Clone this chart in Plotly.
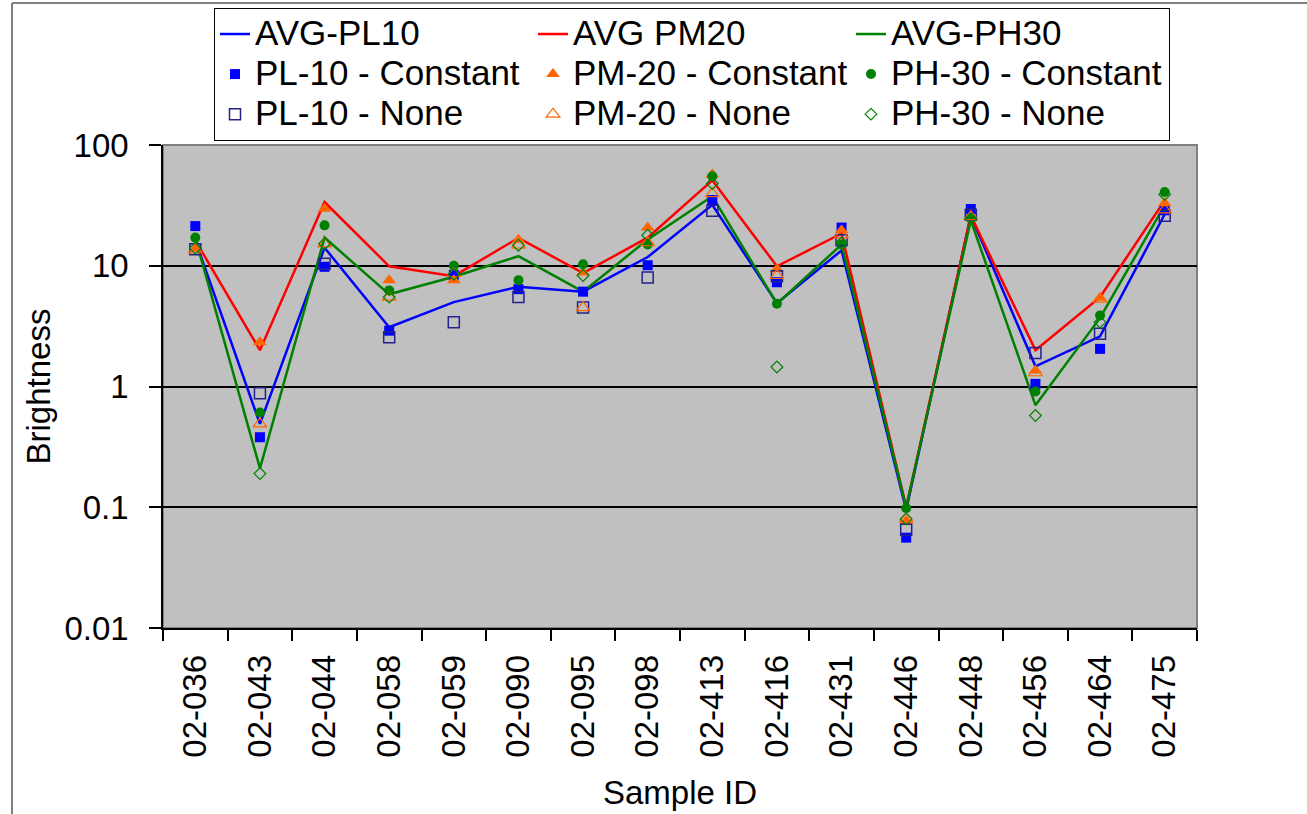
import plotly.graph_objects as go

# Sample identifiers along the x axis
sample_ids = ["02-036", "02-043", "02-044", "02-058", "02-059", "02-090", "02-095", "02-098",
              "02-413", "02-416", "02-431", "02-446", "02-448", "02-456", "02-464", "02-475"]

# Averaged brightness per pigment grade
avg_pl10 = [16.2, 0.49, 14.1, 3.1, 5.0, 6.7, 6.1, 11.8, 32.0, 4.9, 13.4, 0.095, 26.0, 1.47, 2.6, 26.7]
avg_pm20 = [16.2, 2.0, 33.7, 9.9, 8.2, 17.0, 8.7, 17.1, 51.0, 9.9, 18.5, 0.1, 26.0, 2.0, 5.5, 34.8]
avg_ph30 = [17.0, 0.21, 17.1, 5.8, 8.1, 12.0, 6.1, 16.5, 37.6, 4.85, 15.0, 0.1, 23.8, 0.70, 3.7, 31.7]

# Individual measurements, "Constant" correction
pl10_const = [21.3, 0.38, 9.8, 2.9, 8.4, 6.4, 6.1, 10.1, 35.0, 7.3, 20.7, 0.056, 29.5, 1.05, 2.05, 28.8]
pm20_const = [13.8, 2.33, 29.7, 7.6, 7.6, 16.4, 8.8, 20.7, 57.0, 9.4, 19.7, 0.077, 25.5, 1.36, 5.44, 33.0]
ph30_const = [17.1, 0.61, 21.6, 6.25, 10.0, 7.6, 10.3, 15.0, 55.0, 4.85, 15.0, 0.098, 25.0, 0.91, 3.88, 40.8]

# Individual measurements, no correction
pl10_none = [13.7, 0.88, 10.4, 2.56, 3.4, 5.5, 4.5, 8.0, 28.5, 8.2, 16.3, 0.065, 26.5, 1.89, 2.74, 26.0]
pm20_none = [13.5, 0.49, 15.2, 5.5, 8.6, 14.8, 4.5, 15.5, 39.5, 8.3, 18.0, 0.08, 25.5, 1.3, 5.3, 29.0]
ph30_none = [14.0, 0.19, 15.2, 5.5, 8.5, 14.8, 8.3, 17.9, 48.0, 1.45, 15.5, 0.08, 24.5, 0.575, 3.41, 39.0]

y_ticks = [0.01, 0.1, 1, 10, 100]
y_tick_text = ["0.01", "0.1", "1", "10", "100"]

FONT = "Arial, 'Liberation Sans', sans-serif"


def legend_label(text):
    # legend rows are spaced for a smaller font; the label itself is drawn larger
    return f'<span style="font-size:35px">{text}</span>'


fig = go.Figure()

for name, vals, color in [("AVG-PL10", avg_pl10, "#0000FF"),
                          ("AVG PM20", avg_pm20, "#FF0000"),
                          ("AVG-PH30", avg_ph30, "#008000")]:
    fig.add_trace(go.Scatter(x=sample_ids, y=vals, name=legend_label(name), mode="lines",
                             line=dict(color=color, width=2.5)))

marker_series = [
    ("PL-10 - Constant", pl10_const, dict(symbol="square", size=10, color="#0000FF")),
    ("PM-20 - Constant", pm20_const, dict(symbol="triangle-up", size=12, color="#FF6600")),
    ("PH-30 - Constant", ph30_const, dict(symbol="circle", size=10, color="#008000")),
    ("PL-10 - None", pl10_none, dict(symbol="square-open", size=11, color="#22228A",
                                     line=dict(width=1.5))),
    ("PM-20 - None", pm20_none, dict(symbol="triangle-up-open", size=12, color="#FF6600",
                                     line=dict(width=1.2))),
    ("PH-30 - None", ph30_none, dict(symbol="diamond-open", size=9, color="#008000",
                                     line=dict(width=1.2))),
]
for name, vals, marker in marker_series:
    fig.add_trace(go.Scatter(x=sample_ids, y=vals, name=legend_label(name), mode="markers",
                             marker=marker))

# plot-area border and the outer chart frame (plot area spans 163..1197 x 145..628 px)
PX_L, PX_R, PX_T, PX_B = 163, 1197, 145, 628
def px_x(px):
    return (px - PX_L) / (PX_R - PX_L)
def px_y(py):
    return (PX_B - py) / (PX_B - PX_T)

shapes = [
    dict(type="rect", xref="paper", yref="paper", x0=0, x1=1, y0=0, y1=1,
         line=dict(color="#808080", width=2), layer="below"),
    dict(type="line", xref="paper", yref="paper", x0=px_x(12), x1=px_x(12),
         y0=px_y(830), y1=px_y(3), line=dict(color="#808080", width=2)),
    dict(type="line", xref="paper", yref="paper", x0=px_x(12), x1=px_x(1320),
         y0=px_y(3), y1=px_y(3), line=dict(color="#808080", width=2)),
]

fig.update_layout(
    width=1307, height=814,
    margin=dict(l=PX_L, r=1307 - PX_R, t=PX_T, b=814 - PX_B, autoexpand=False),
    paper_bgcolor="white", plot_bgcolor="#C0C0C0",
    font=dict(family=FONT, size=33, color="black"),
    showlegend=True,
    legend=dict(orientation="h", xref="container", yref="container",
                x=214 / 1307, y=1 - 8 / 814, xanchor="left", yanchor="top",
                entrywidth=273, entrywidthmode="pixels",
                bgcolor="white", bordercolor="black", borderwidth=1,
                font=dict(family=FONT, size=28.5, color="black"),
                traceorder="normal"),
    shapes=shapes,
    xaxis=dict(type="category", range=[-0.5, 15.5], tickangle=-90,
               ticks="outside", tickson="boundaries", ticklen=11, tickwidth=1.5,
               tickcolor="black", showline=True, linecolor="black", linewidth=1.5,
               showgrid=False, ticklabelstandoff=12,
               tickfont=dict(family=FONT, size=33, color="black"),
               title=dict(text="Sample ID", standoff=24,
                          font=dict(family=FONT, size=33, color="black"))),
    yaxis=dict(type="log", range=[-2, 2], tickvals=y_ticks, ticktext=y_tick_text,
               ticks="outside", ticklen=12, tickwidth=1.5, tickcolor="black",
               showline=True, linecolor="black", linewidth=1.5,
               showgrid=True, gridcolor="black", gridwidth=1.5, zeroline=False,
               ticklabelstandoff=14,
               tickfont=dict(family=FONT, size=33, color="black"),
               title=dict(text="Brightness", standoff=4,
                          font=dict(family=FONT, size=33, color="black"))),
)

fig.write_html("out.html")
